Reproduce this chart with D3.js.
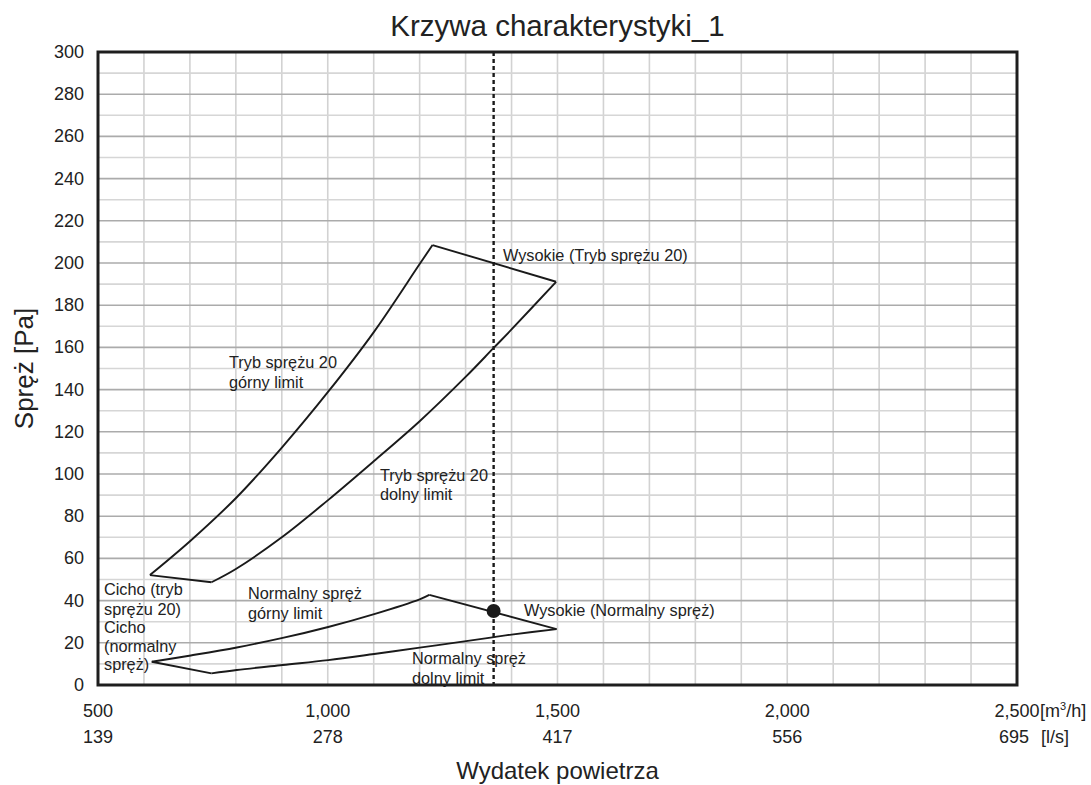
<!DOCTYPE html>
<html>
<head>
<meta charset="utf-8">
<script src="https://cdn.jsdelivr.net/npm/d3@7"></script>
<style>
  body { margin: 0; background: #fff; }
  svg text { font-family: "Liberation Sans", Arial, sans-serif; fill: #222; }
</style>
</head>
<body>
<div id="chart"></div>
<script>
var width = 1091,
    height = 785,
    margin = {top: 52, right: 74, bottom: 100, left: 98};

// osie
var xTicks = [500, 1000, 1500, 2000, 2500];
var xTicksLs = [139, 278, 417, 556, 695];
var yTicks = d3.range(0, 301, 20);

// tryb sprężu 20 (górna wstęga)
var gorny20 = [[613, 52.1], [702, 68.5], [802, 89], [902, 113], [1001, 139], [1101, 167.5], [1200, 199.5], [1228, 208.5]];
var wysokie20 = [[1228, 208.5], [1497, 191.1]];
var dolny20 = [[747, 48.7], [800, 55], [900, 70], [1000, 87.5], [1100, 106], [1200, 125], [1300, 146], [1360, 159.5], [1400, 168.5], [1497, 191.1]];
var cicho20 = [[747, 48.7], [613, 52.1]];

// normalny spręż (dolna wstęga)
var gornyN = [[617, 11], [702, 14], [802, 17.8], [902, 22.3], [1001, 27.5], [1101, 33.6], [1200, 40.6], [1221, 42.7]];
var wysokieN = [[1221, 42.7], [1498, 26.5]];
var dolnyN = [[747, 5.5], [802, 7.1], [902, 9.5], [1001, 11.8], [1101, 14.7], [1200, 17.7], [1301, 20.8], [1362, 22.7], [1400, 23.9], [1498, 26.5]];
var cichoN = [[747, 5.5], [617, 11]];

// punkt pracy
var punktX = 1361, punktY = 35.1;

// etykiety: tekst, lewa krawędź [px], linie bazowe [px]
var etykiety = [
  {lines: ["Wysokie (Tryb sprężu 20)"], left: 503, base: [261]},
  {lines: ["Tryb sprężu 20", "górny limit"], left: 229, base: [368, 388]},
  {lines: ["Tryb sprężu 20", "dolny limit"], left: 380, base: [481, 500]},
  {lines: ["Cicho (tryb", "sprężu 20)"], left: 104, base: [595, 615]},
  {lines: ["Cicho", "(normalny", "spręż)"], left: 104, base: [633, 651.5, 670]},
  {lines: ["Normalny spręż", "górny limit"], left: 248, base: [599, 619]},
  {lines: ["Wysokie (Normalny spręż)"], left: 524, base: [616]},
  {lines: ["Normalny spręż", "dolny limit"], left: 412, base: [664, 684]}
];

var svg = d3.select("#chart")
  .append("svg")
    .attr("width", width)
    .attr("height", height);

var x = d3.scaleLinear().domain([500, 2500]).range([margin.left, width - margin.right]);
var y = d3.scaleLinear().domain([0, 300]).range([height - margin.bottom, margin.top]);

// siatka
svg.append("g")
  .selectAll("line")
  .data(d3.range(600, 2500, 100))
  .enter().append("line")
    .attr("x1", function(d) { return x(d); })
    .attr("x2", function(d) { return x(d); })
    .attr("y1", y(0))
    .attr("y2", y(300))
    .attr("stroke", "#d2d2d2")
    .attr("stroke-width", 1.6);

svg.append("g")
  .selectAll("line")
  .data(d3.range(10, 300, 10))
  .enter().append("line")
    .attr("x1", x(500))
    .attr("x2", x(2500))
    .attr("y1", function(d) { return y(d); })
    .attr("y2", function(d) { return y(d); })
    .attr("stroke", function(d) { return d % 20 === 0 ? "#ababab" : "#d6d6d6"; })
    .attr("stroke-width", 1.6);

// krzywe
var line = d3.line()
  .x(function(d) { return x(d[0]); })
  .y(function(d) { return y(d[1]); });
var curve = d3.line()
  .x(function(d) { return x(d[0]); })
  .y(function(d) { return y(d[1]); })
  .curve(d3.curveCatmullRom);

[gorny20, dolny20, gornyN, dolnyN].forEach(function(s) {
  svg.append("path")
    .attr("d", curve(s))
    .attr("fill", "none")
    .attr("stroke", "#1a1a1a")
    .attr("stroke-width", 1.9);
});
[wysokie20, cicho20, wysokieN, cichoN].forEach(function(s) {
  svg.append("path")
    .attr("d", line(s))
    .attr("fill", "none")
    .attr("stroke", "#1a1a1a")
    .attr("stroke-width", 1.9);
});

// etykiety
etykiety.forEach(function(e) {
  var t = svg.append("text")
    .attr("font-size", 16.3);
  e.lines.forEach(function(l, i) {
    t.append("tspan")
      .attr("x", e.left)
      .attr("y", e.base[i])
      .text(l);
  });
});

// linia pionowa punktu pracy
svg.append("line")
  .attr("x1", x(punktX)).attr("x2", x(punktX))
  .attr("y1", y(300)).attr("y2", y(0))
  .attr("stroke", "#1a1a1a")
  .attr("stroke-width", 2.4)
  .attr("stroke-dasharray", "4,3");

svg.append("circle")
  .attr("cx", x(punktX))
  .attr("cy", y(punktY))
  .attr("r", 7)
  .attr("fill", "#1a1a1a");

// ramka
svg.append("rect")
  .attr("x", x(500)).attr("y", y(300))
  .attr("width", x(2500) - x(500))
  .attr("height", y(0) - y(300))
  .attr("fill", "none")
  .attr("stroke", "#1e1e1e")
  .attr("stroke-width", 3);

// opisy osi
svg.append("g")
  .selectAll("text")
  .data(yTicks)
  .enter().append("text")
    .attr("x", margin.left - 14)
    .attr("y", function(d) { return y(d) + 6; })
    .attr("text-anchor", "end")
    .attr("font-size", 18)
    .text(function(d) { return d; });

var fmt = d3.format(",");
svg.append("g")
  .selectAll("text")
  .data(xTicks)
  .enter().append("text")
    .attr("x", function(d) { return x(d); })
    .attr("y", 717)
    .attr("text-anchor", "middle")
    .attr("font-size", 18)
    .text(function(d) { return fmt(d); });

svg.append("g")
  .selectAll("text")
  .data(xTicksLs)
  .enter().append("text")
    .attr("x", function(d, i) { return x(xTicks[i]) - (i === xTicks.length - 1 ? 3 : 0); })
    .attr("y", 743)
    .attr("text-anchor", "middle")
    .attr("font-size", 18)
    .text(function(d) { return d; });

var unit = svg.append("text")
  .attr("x", 1040).attr("y", 717)
  .attr("font-size", 18);
unit.append("tspan").text("[m");
unit.append("tspan").attr("font-size", 11).attr("dy", -7).text("3");
unit.append("tspan").attr("dy", 7).text("/h]");

svg.append("text")
  .attr("x", 1041).attr("y", 743)
  .attr("font-size", 18)
  .text("[l/s]");

svg.append("text")
  .attr("x", (x(500) + x(2500)) / 2)
  .attr("y", 36)
  .attr("text-anchor", "middle")
  .attr("font-size", 29.5)
  .text("Krzywa charakterystyki_1");

svg.append("text")
  .attr("x", (x(500) + x(2500)) / 2)
  .attr("y", 779)
  .attr("text-anchor", "middle")
  .attr("font-size", 24)
  .text("Wydatek powietrza");

svg.append("text")
  .attr("transform", "translate(33," + (y(150)) + ") rotate(-90)")
  .attr("text-anchor", "middle")
  .attr("font-size", 26)
  .text("Spręż [Pa]");
</script>
</body>
</html>
